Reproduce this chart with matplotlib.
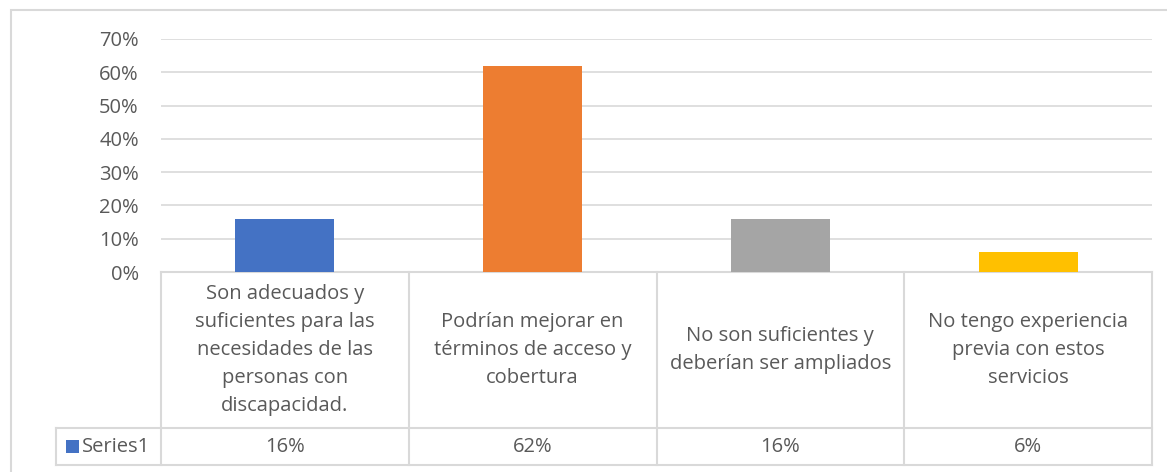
import matplotlib.pyplot as plt
import matplotlib.transforms as mtransforms
from matplotlib.patches import Rectangle

categories = [
    "Son adecuados y\nsuficientes para las\nnecesidades de las\npersonas con\ndiscapacidad.",
    "Podrían mejorar en\ntérminos de acceso y\ncobertura",
    "No son suficientes y\ndeberían ser ampliados",
    "No tengo experiencia\nprevia con estos\nservicios",
]
values = [0.16, 0.62, 0.16, 0.06]
value_labels = ["16%", "62%", "16%", "6%"]
series_name = "Series1"
colors = ["#4472C4", "#ED7D31", "#A5A5A5", "#FFC000"]
yticks = [0, 0.1, 0.2, 0.3, 0.4, 0.5, 0.6, 0.7]

plt.rcParams['font.family'] = ['Open Sans', 'DejaVu Sans']
text_col = "#595959"
line_col = "#D9D9D9"
fs = 14.5

W, H = 1167, 472
fig = plt.figure(figsize=(W / 100, H / 100), dpi=100)

# chart area border (cut off on the right/bottom in the source)
fig.patches.append(Rectangle((11 / W, -0.02), 1.1, 1 - 10 / H + 0.02,
                             transform=fig.transFigure, fill=False,
                             edgecolor=line_col, linewidth=1.5))

left, right = 161 / W, 1152 / W
bottom, top = 1 - 272 / H, 1 - 39 / H
ax = fig.add_axes([left, bottom, right - left, top - bottom])

x = range(len(categories))
ax.bar(x, values, width=0.4, color=colors, zorder=3)
ax.set_xlim(-0.5, len(categories) - 0.5)
ax.set_ylim(0, 0.7)
ax.set_yticks(yticks)
ax.set_yticklabels([f"{int(round(t * 100))}%" for t in yticks])
ax.yaxis.grid(True, color=line_col, linewidth=1.2, zorder=0)
ax.set_xticks([])
for s in ax.spines.values():
    s.set_visible(False)
ax.tick_params(axis='y', length=0, pad=16, labelsize=fs, labelcolor=text_col)

# data table below the plot (x in data units, y in axes fraction)
tr = mtransforms.blended_transform_factory(ax.transData, ax.transAxes)
ah = 272 - 39
y_top = 0.0
y_mid = -(428 - 272) / ah
y_bot = -(465 - 272) / ah
x_left = -0.5 + (56 - 161) * len(categories) / (1152 - 161)
x_end = len(categories) - 0.5
kw = dict(transform=tr, clip_on=False, color=line_col, linewidth=1.5)
ax.plot([-0.5, x_end], [y_top, y_top], **kw)
ax.plot([x_left, x_end], [y_mid, y_mid], **kw)
ax.plot([x_left, x_end], [y_bot, y_bot], **kw)
ax.plot([x_left, x_left], [y_mid, y_bot], **kw)
for b in range(len(categories) + 1):
    ax.plot([b - 0.5, b - 0.5], [y_top, y_bot], **kw)

for i, cat in enumerate(categories):
    ax.text(i, (y_top + y_mid) / 2, cat, ha='center', va='center', transform=tr,
            fontsize=fs, color=text_col, linespacing=1.55, clip_on=False)
    ax.text(i, (y_mid + y_bot) / 2, value_labels[i], ha='center', va='center',
            transform=tr, fontsize=fs, color=text_col, clip_on=False)

key_x = x_left + 0.04
key_h = 13 / ah
ax.add_patch(Rectangle((key_x, (y_mid + y_bot) / 2 - key_h / 2), 0.052, key_h,
                       facecolor=colors[0], transform=tr, clip_on=False))
ax.text(key_x + 0.064, (y_mid + y_bot) / 2, series_name, ha='left', va='center',
        transform=tr, fontsize=fs, color=text_col, clip_on=False)

fig.savefig("out.png", dpi=100)
